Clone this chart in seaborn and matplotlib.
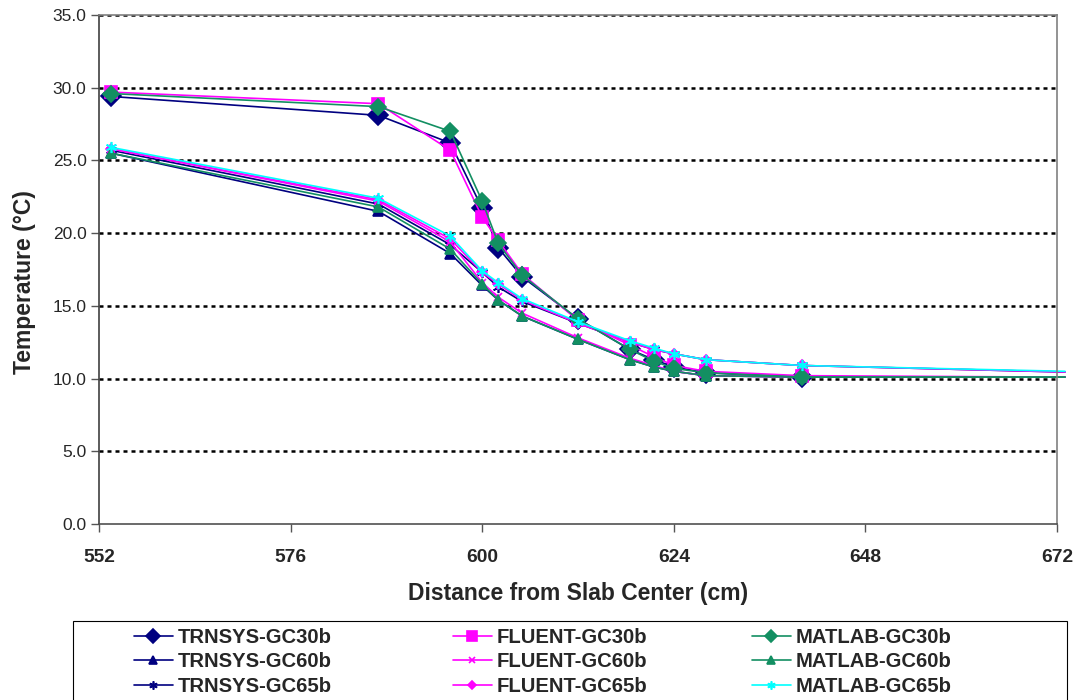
import matplotlib
matplotlib.use("Agg")
import matplotlib.pyplot as plt
from matplotlib.patches import Rectangle
import seaborn as sns
import pandas as pd

# distance from slab center (cm); last point only carries the line to the edge
x_cm = [553.5, 587, 596, 600, 602, 605, 612, 618.5, 621.5, 624, 628, 640, 673]

trnsys_gc30b = [29.4, 28.1, 26.2, 21.7, 19.0, 17.0, 14.1, 12.0, 11.3, 10.8, 10.4, 10.1, 10.1]
trnsys_gc60b = [25.5, 21.5, 18.6, 16.4, 15.4, 14.3, 12.7, 11.3, 10.8, 10.5, 10.2, 10.1, 10.1]
trnsys_gc65b = [25.7, 22.0, 19.2, 17.3, 16.3, 15.3, 13.8, 12.5, 12.0, 11.7, 11.3, 10.9, 10.45]
fluent_gc30b = [29.7, 28.9, 25.7, 21.1, 19.5, 17.2, 14.0, 12.3, 11.5, 10.9, 10.5, 10.2, 10.1]
fluent_gc60b = [25.8, 22.2, 19.4, 16.6, 15.6, 14.5, 12.8, 11.4, 10.9, 10.5, 10.2, 10.1, 10.1]
fluent_gc65b = [25.8, 22.3, 19.6, 17.3, 16.5, 15.4, 13.8, 12.5, 12.0, 11.7, 11.3, 10.9, 10.45]
matlab_gc30b = [29.6, 28.7, 27.0, 22.2, 19.3, 17.1, 14.1, 12.0, 11.2, 10.7, 10.4, 10.1, 10.1]
matlab_gc60b = [25.5, 21.8, 18.9, 16.5, 15.4, 14.3, 12.7, 11.3, 10.8, 10.5, 10.2, 10.1, 10.1]
matlab_gc65b = [25.9, 22.4, 19.8, 17.4, 16.6, 15.5, 13.9, 12.6, 12.1, 11.7, 11.3, 10.9, 10.5]

series_names = ["TRNSYS-GC30b", "TRNSYS-GC60b", "TRNSYS-GC65b",
                "FLUENT-GC30b", "FLUENT-GC60b", "FLUENT-GC65b",
                "MATLAB-GC30b", "MATLAB-GC60b", "MATLAB-GC65b"]
series_values = [trnsys_gc30b, trnsys_gc60b, trnsys_gc65b,
                 fluent_gc30b, fluent_gc60b, fluent_gc65b,
                 matlab_gc30b, matlab_gc60b, matlab_gc65b]
x_ticks = [552, 576, 600, 624, 648, 672]
y_ticks = [0, 5, 10, 15, 20, 25, 30, 35]

navy = "#000080"
magenta = "#FF00FF"
green = "#138F62"
cyan = "#00FFFF"
styles = {
    "TRNSYS-GC30b": (navy, "D", 10),
    "TRNSYS-GC60b": (navy, "^", 7.5),
    "TRNSYS-GC65b": (navy, (6, 2, 0), 8),
    "FLUENT-GC30b": (magenta, "s", 9),
    "FLUENT-GC60b": (magenta, "x", 6),
    "FLUENT-GC65b": (magenta, "D", 5),
    "MATLAB-GC30b": (green, "D", 8),
    "MATLAB-GC60b": (green, "^", 7.5),
    "MATLAB-GC65b": (cyan, (6, 2, 0), 8),
}

sns.set_style("white")
plt.rcParams["font.family"] = ["Liberation Sans", "DejaVu Sans"]

W, H = 1080, 700
fig = plt.figure(figsize=(W / 100, H / 100), dpi=100)
ax = fig.add_axes([99 / W, 1 - 524 / H, (1057 - 99) / W, (524 - 15) / H])

for name, vals in zip(series_names, series_values):
    col, mk, ms = styles[name]
    df = pd.DataFrame({"x": x_cm, "y": vals})
    sns.lineplot(data=df, x="x", y="y", ax=ax, color=col, marker=mk,
                 markersize=ms, markeredgecolor=col, markeredgewidth=1.2,
                 markevery=slice(0, len(x_cm) - 1), linewidth=1.2,
                 label=name, clip_on=False, sort=False)

ax.set_xlim(552, 672)
ax.set_ylim(0, 35)
ax.set_xticks(x_ticks)
ax.set_yticks(y_ticks)
ax.set_yticklabels([f"{v:.1f}" for v in y_ticks], fontsize=12.5)
ax.set_xticklabels([str(v) for v in x_ticks], fontsize=13.8, fontweight="bold")
ax.tick_params(axis="both", direction="out", length=6, width=1, color="#555555",
               left=True, bottom=True)
ax.tick_params(axis="x", pad=12)
ax.tick_params(axis="y", pad=3)

for yv in y_ticks[1:]:
    ax.axhline(yv, color="black", linestyle=(0, (1.6, 1.6)), linewidth=1.8, zorder=0.5)

for s in ax.spines.values():
    s.set_color("#808080")
    s.set_linewidth(1.2)
ax.spines["left"].set_color("#404040")
ax.spines["bottom"].set_color("#505050")

ax.set_xlabel("Distance from Slab Center (cm)", fontsize=16.5, fontweight="bold")
ax.set_ylabel("Temperature (°C)", fontsize=16.5, fontweight="bold")
ax.xaxis.set_label_coords(0.5, (524 - 582) / 509)
ax.yaxis.set_label_coords((36 - 99) / 958, 0.475)

ax.get_legend().remove()
handles, labels = ax.get_legend_handles_labels()

# legend box (runs off the bottom edge, as in the original)
fig.patches.append(Rectangle((73 / W, -0.05), (1067 - 73) / W, 0.05 + (700 - 621) / H,
                             transform=fig.transFigure, facecolor="white",
                             edgecolor="black", linewidth=0.8, zorder=0))

col_x = [134, 453, 752]
for i, cx in enumerate(col_x):
    leg = fig.legend(handles[3 * i:3 * i + 3], labels[3 * i:3 * i + 3],
                     loc="upper left", bbox_to_anchor=(cx / W, 1 - 628 / H),
                     frameon=False, prop={"weight": "bold", "size": 14.6},
                     handlelength=1.92, handletextpad=0.25, labelspacing=0.27,
                     borderpad=0, borderaxespad=0, markerscale=0.75)

fig.savefig("out.png", dpi=100)
